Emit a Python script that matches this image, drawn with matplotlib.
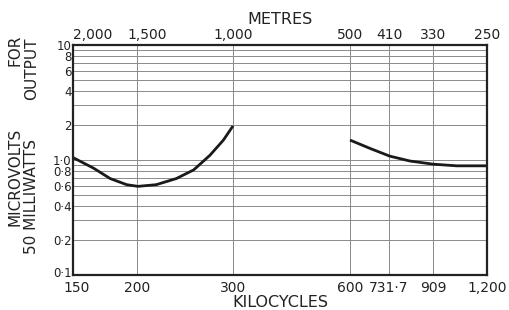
import numpy as np
import matplotlib
matplotlib.use("Agg")
import matplotlib.pyplot as plt
import matplotlib.transforms as mtransforms

# ---- data ----
kc_ticks = [150, 200, 300, 600, 731.7, 909, 1200]
kc_labels = ["150", "200", "300", "600", "731·7", "909", "1,200"]
metre_labels = ["2,000", "1,500", "1,000", "500", "410", "330", "250"]

y_major = [0.1, 0.2, 0.4, 0.6, 0.8, 1.0, 2, 4, 6, 8, 10]
y_labels = ["0·1", "0·2", "0·4", "0·6", "0·8", "1·0", "2", "4", "6", "8", "10"]
y_minor = [0.3, 0.5, 0.7, 0.9, 3, 5, 7, 9]

lw_kc = [150, 166, 179, 192, 201, 220, 241, 259, 276, 290, 300]
lw_uv = [1.05, 0.85, 0.69, 0.61, 0.59, 0.61, 0.69, 0.82, 1.10, 1.49, 1.98]

mw_kc = [600, 668, 735, 816, 909, 1037, 1200]
mw_uv = [1.49, 1.26, 1.08, 0.98, 0.92, 0.89, 0.89]

# ---- dial scale (non-uniform tuning scale) ----
dial_pos = [0.0, 0.1546, 0.3865, 0.6691, 0.7633, 0.8696, 1.0]

def fwd(x):
    return np.interp(x, kc_ticks, dial_pos)

def inv(p):
    return np.interp(p, dial_pos, kc_ticks)

W, H = 509, 310
fig = plt.figure(figsize=(W / 100, H / 100), dpi=100)
ax = fig.add_axes([73 / W, 1 - 275 / H, (487 - 73) / W, (275 - 45) / H])

ax.set_xscale("function", functions=(fwd, inv))
ax.set_yscale("log")
ax.set_xlim(150, 1200)
ax.set_ylim(0.1, 10)

ax.plot(lw_kc, lw_uv, color="#1a1a1a", lw=2.0, solid_capstyle="butt", solid_joinstyle="round")
ax.plot(mw_kc, mw_uv, color="#1a1a1a", lw=2.0, solid_capstyle="butt", solid_joinstyle="round")

font = "DejaVu Sans"
ax.set_xticks(kc_ticks)
ax.set_xticklabels(kc_labels, fontsize=10, family=font, color="#222")
ax.xaxis.set_minor_locator(matplotlib.ticker.NullLocator())
ax.set_yticks(y_major)
ax.set_yticklabels(y_labels, fontsize=8.5, family=font, color="#222")
ax.set_yticks(y_minor, minor=True)
ax.yaxis.set_minor_formatter(matplotlib.ticker.NullFormatter())
ax.tick_params(axis="both", which="both", length=0)
ax.tick_params(axis="y", pad=1)
ax.tick_params(axis="x", pad=4)

ax.grid(True, which="both", axis="y", color="#8a8a8a", lw=0.7)
ax.grid(True, which="major", axis="x", color="#8a8a8a", lw=0.7)
for s in ax.spines.values():
    s.set_linewidth(1.6)
    s.set_color("#222")

ax.set_xlabel("KILOCYCLES", fontsize=11.5, family=font, color="#222", labelpad=0)

# top metres axis
top = ax.twiny()
top.set_xscale("function", functions=(fwd, inv))
top.set_xlim(ax.get_xlim())
top.set_xticks(kc_ticks)
top.set_xticklabels(metre_labels, fontsize=10, family=font, color="#222")
top.xaxis.set_minor_locator(matplotlib.ticker.NullLocator())
top.tick_params(length=0, pad=2)
top.set_xlabel("METRES", fontsize=11.5, family=font, color="#222", labelpad=3)
for s in top.spines.values():
    s.set_visible(False)

shifts = {0: 20, 1: 10}
for i, lab in enumerate(top.get_xticklabels()):
    if i in shifts:
        lab.set_transform(lab.get_transform() +
                          mtransforms.ScaledTranslation(shifts[i] / 100, 0, fig.dpi_scale_trans))
lab0 = ax.get_xticklabels()[0]
lab0.set_transform(lab0.get_transform() +
                   mtransforms.ScaledTranslation(4 / 100, 0, fig.dpi_scale_trans))
ylab0 = ax.get_yticklabels()[0]
ylab0.set_transform(ylab0.get_transform() +
                    mtransforms.ScaledTranslation(0, 3 / 100, fig.dpi_scale_trans))

# y-axis label in two columns
def ftxt(x, y, s):
    fig.text(x / W, 1 - y / H, s, rotation=90, ha="center", va="center",
             fontsize=11, family=font, color="#222")

ftxt(15, 177, "MICROVOLTS")
ftxt(15, 50, "FOR")
ftxt(32, 196, "50 MILLIWATTS")
ftxt(32, 69, "OUTPUT")

fig.savefig("out.png", dpi=100)
